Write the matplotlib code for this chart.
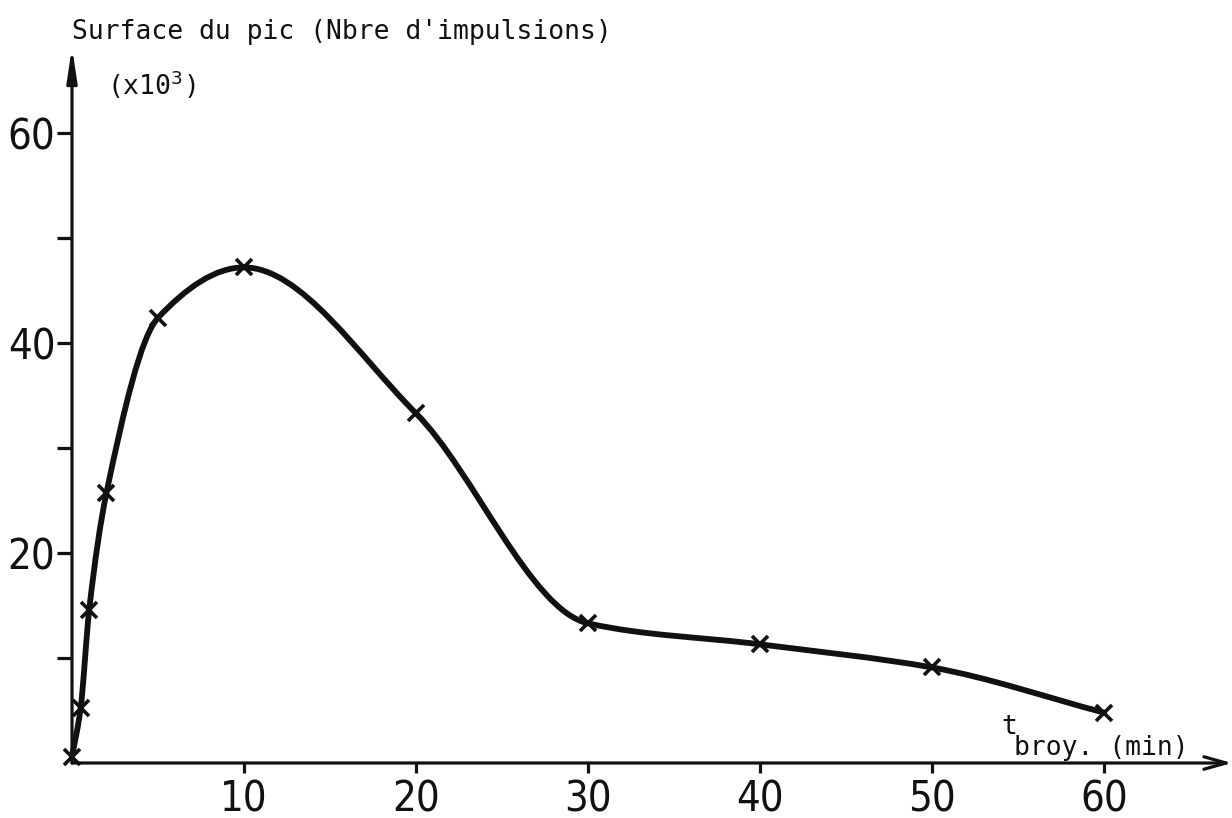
import matplotlib.pyplot as plt
import numpy as np
from matplotlib.path import Path
from matplotlib.patches import PathPatch
from matplotlib import font_manager

# grinding time (min) vs peak area (x10^3 counts)
t_broyage = [0, 0.5, 1, 2, 5, 10, 20, 30, 40, 50, 60]
surface_pic = [0.6, 5.2, 14.6, 25.7, 42.4, 47.2, 33.3, 13.3, 11.3, 9.1, 4.8]

x_ticks = [10, 20, 30, 40, 50, 60]
y_ticks = [10, 20, 30, 40, 50, 60]
y_ticklabels = ['', '20', '', '40', '', '60']

INK = '#111111'
MONO = ['DejaVu Sans Mono']


def narrow_font(size):
    # tick numbers are in a condensed face; take one if installed
    for f in font_manager.fontManager.ttflist:
        cond = f.stretch in ('condensed', 'semi-condensed', 'extra-condensed') \
            or 'Narrow' in f.name or 'Condensed' in f.name
        if cond and f.style == 'normal' and f.weight in (400, 'normal', 'regular'):
            return font_manager.FontProperties(fname=f.fname, size=size)
    return font_manager.FontProperties(family='Liberation Sans', size=size - 2)


def pchip_slopes(x, y):
    x = np.asarray(x, float)
    y = np.asarray(y, float)
    h = np.diff(x)
    d = np.diff(y) / h
    m = np.zeros_like(y)
    m[0] = d[0]
    m[-1] = d[-1]
    for k in range(1, len(x) - 1):
        if d[k - 1] * d[k] > 0:
            w1 = 2 * h[k] + h[k - 1]
            w2 = h[k] + 2 * h[k - 1]
            m[k] = (w1 + w2) / (w1 / d[k - 1] + w2 / d[k])
    return m


def smooth_path(x, y):
    # hermite segments written as cubic bezier curves
    m = pchip_slopes(x, y)
    verts = [(x[0], y[0])]
    codes = [Path.MOVETO]
    for i in range(len(x) - 1):
        h = x[i + 1] - x[i]
        verts += [(x[i] + h / 3, y[i] + m[i] * h / 3),
                  (x[i + 1] - h / 3, y[i + 1] - m[i + 1] * h / 3),
                  (x[i + 1], y[i + 1])]
        codes += [Path.CURVE4] * 3
    return Path(verts, codes)


fig = plt.figure(figsize=(12.32, 8.18), dpi=100)
ax = fig.add_axes([72 / 1232, 55 / 818, 1160 / 1232, 716 / 818])
ax.set_xlim(0, 1160 / 17.2)
ax.set_ylim(0, 716 / 10.5)

for s in ax.spines.values():
    s.set_visible(False)

# axes drawn as arrows
ax.annotate('', xy=(1, 0), xytext=(0, 0), xycoords='axes fraction',
            arrowprops=dict(arrowstyle='->,head_length=1.6,head_width=0.45',
                            lw=2.3, color=INK, shrinkA=0, shrinkB=0))
ax.annotate('', xy=(0, 1), xytext=(0, 0), xycoords='axes fraction',
            arrowprops=dict(arrowstyle='-|>,head_length=2.0,head_width=0.3',
                            lw=2.3, color=INK, shrinkA=0, shrinkB=0))

ax.add_patch(PathPatch(smooth_path(t_broyage, surface_pic), fill=False,
                       lw=4.2, edgecolor=INK, capstyle='round', clip_on=False))
ax.plot(t_broyage, surface_pic, linestyle='none', marker='x', ms=11, mew=2.6,
        color=INK, clip_on=False)

num_font = narrow_font(30)
ax.set_xticks(x_ticks)
ax.set_xticklabels([str(v) for v in x_ticks], fontproperties=num_font)
ax.set_yticks(y_ticks)
ax.set_yticklabels(y_ticklabels, fontproperties=num_font)
ax.tick_params(axis='x', direction='out', length=7, width=2.3, color=INK, pad=4, labelcolor=INK)
ax.tick_params(axis='y', direction='out', length=11, width=2.3, color=INK, pad=1, labelcolor=INK)

fig.text(72 / 1232, 1 - 32 / 818, "Surface du pic (Nbre d'impulsions)", family=MONO,
         fontsize=19, va='center', ha='left', color=INK)
fig.text(107 / 1232, 1 - 85 / 818, "(x10$^3$)", family=MONO,
         fontsize=19, va='center', ha='left', color=INK)
fig.text(1001 / 1232, 1 - 734 / 818, "t", family=MONO,
         fontsize=19, va='baseline', ha='left', color=INK)
fig.text(1014 / 1232, 1 - 755 / 818, "broy. (min)", family=MONO,
         fontsize=19, va='baseline', ha='left', color=INK)

fig.savefig('out.png', dpi=100, facecolor='white')
